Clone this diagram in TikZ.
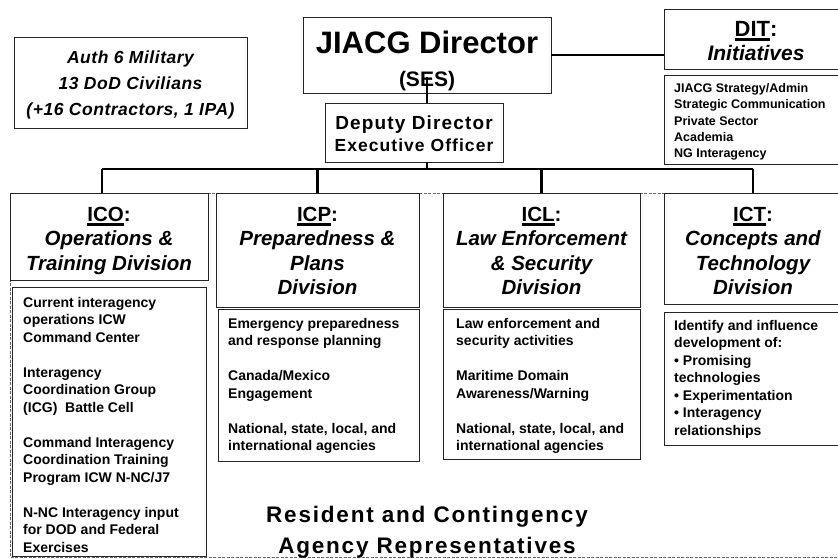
\documentclass[tikz,border=0pt]{standalone}
\usepackage{fontspec}
\setmainfont{Liberation Sans}
\newfontfamily\spA[LetterSpace=3]{Liberation Sans}
\newfontfamily\spB[LetterSpace=6]{Liberation Sans}
\newfontfamily\spC[LetterSpace=8]{Liberation Sans}
\newcommand\thul[1]{\setbox0\hbox{#1}\rlap{\rule[-4.5pt]{\wd0}{2.6pt}}\box0}
\tikzset{
  box/.style={draw=black!85, line width=0.8pt, inner sep=0pt, fill=white},
  conn/.style={line width=2.4pt, black},
  hdr/.style={anchor=north, align=center, inner sep=0pt, font=\bfseries\itshape\fontsize{20.5}{24.5}\selectfont},
  lst/.style={anchor=north west, align=left, inner sep=0pt, font=\bfseries\fontsize{14}{17.5}\selectfont},
}
\begin{document}
\begin{tikzpicture}[x=1pt,y=-1pt]
\useasboundingbox (0,0) rectangle (838,559);
\clip (0,0) rectangle (838,559);
\fill[white] (0,0) rectangle (838,559);
% outer dashed frame
\draw[dashed, black!60, line width=0.8pt, dash pattern=on 3pt off 1.5pt] (10,193) rectangle (860,557);
% top boxes
\node[box, minimum width=233pt, minimum height=91pt] (auth) at (130.5,82.5) {};
\node[box, minimum width=248pt, minimum height=76pt] (jd) at (427,55) {};
\node[box, minimum width=178pt, minimum height=59pt] (dep) at (414,132.5) {};
\node[box, minimum width=184pt, minimum height=60pt] (dit) at (756,39) {};
\node[box, minimum width=184pt, minimum height=89pt] (ditl) at (756,119.5) {};
% division boxes
\node[box, minimum width=198pt, minimum height=87pt] (ico) at (109,236.5) {};
\node[box, minimum width=194pt, minimum height=269pt] (icol) at (109,421.5) {};
\node[box, minimum width=203pt, minimum height=114pt] (icp) at (317.5,250) {};
\node[box, minimum width=201pt, minimum height=152pt] (icpl) at (318.5,385) {};
\node[box, minimum width=197pt, minimum height=114pt] (icl) at (541.5,250) {};
\node[box, minimum width=197pt, minimum height=150pt] (icll) at (541.5,384) {};
\node[box, minimum width=178pt, minimum height=111pt] (ict) at (753,248.5) {};
\node[box, minimum width=178pt, minimum height=133pt] (ictl) at (753,378.5) {};
% connectors
\coordinate (sesmid) at (427,77);
\coordinate (busL) at (102,169);
\coordinate (busR) at (753,169);
\draw[conn] (jd.east) -- (jd.east -| dit.west);
\draw[conn] (sesmid) -- (sesmid |- dep.north);
\draw[conn] (sesmid |- dep.south) -- (sesmid |- busL);
\draw[conn] (busL) -- (busR);
\draw[conn] (busL) -- (busL |- ico.north);
\draw[conn] (icp.north |- busL) -- (icp.north);
\draw[conn] (icl.north |- busL) -- (icl.north);
\draw[conn] (busR) -- (ict.north);
% texts
\node[anchor=north, align=center, inner sep=0pt, font=\spA\bfseries\itshape\fontsize{17.5}{26}\selectfont] (autht) at (130.5,47)
  {\rule{0pt}{16pt}Auth 6 Military\\13 DoD Civilians\\(+16 Contractors, 1 IPA)};
\node[anchor=north, align=center, inner sep=0pt, font=\bfseries\fontsize{31}{33}\selectfont] (jdt) at (427,28)
  {\rule{0pt}{25pt}JIACG Director\\{\fontsize{21}{33}\selectfont (SES)}};
\node[anchor=north, align=center, inner sep=0pt, font=\spB\bfseries\fontsize{19}{22}\selectfont] (dept) at (414,113)
  {\rule{0pt}{16pt}Deputy Director\\{\fontsize{17.5}{22}\selectfont Executive Officer}};
\node[anchor=north, align=center, inner sep=0pt, font=\bfseries\fontsize{21}{24}\selectfont] (ditt) at (756,17)
  {\rule{0pt}{19pt}{\fontsize{22}{24}\selectfont\thul{DIT}:}\\{\itshape Initiatives}};
\node[anchor=north west, align=left, inner sep=0pt, font=\bfseries\fontsize{12.5}{16.25}\selectfont] (ditlt) at (674,81.5)
  {\rule{0pt}{11pt}JIACG Strategy/Admin\\Strategic Communication\\Private Sector\\Academia\\NG Interagency};
\node[hdr] (icot) at (109,203) {\rule{0pt}{18pt}{\upshape\thul{ICO}:}\\Operations \&\\Training Division};
\node[hdr] (icpt) at (317.5,203) {\rule{0pt}{18pt}{\upshape\thul{ICP}:}\\Preparedness \&\\Plans\\Division};
\node[hdr] (iclt) at (541.5,203) {\rule{0pt}{18pt}{\upshape\thul{ICL}:}\\Law Enforcement\\\& Security\\Division};
\node[hdr] (ictt) at (753,203) {\rule{0pt}{18pt}{\upshape\thul{ICT}:}\\Concepts and\\Technology\\Division};
\node[lst] (icolt) at (23,295) {\rule{0pt}{12pt}Current interagency\\operations ICW\\Command Center\\[17.5pt]Interagency\\Coordination Group\\(ICG)\ \ Battle Cell\\[17.5pt]Command Interagency\\Coordination Training\\Program ICW N-NC/J7\\[17.5pt]N-NC Interagency input\\for DOD and Federal\\Exercises};
\node[lst] (icplt) at (228,316) {\rule{0pt}{12pt}Emergency preparedness\\and response planning\\[17.5pt]Canada/Mexico\\Engagement\\[17.5pt]National, state, local, and\\international agencies};
\node[lst] (icllt) at (456,316) {\rule{0pt}{12pt}Law enforcement and\\security activities\\[17.5pt]Maritime Domain\\Awareness/Warning\\[17.5pt]National, state, local, and\\international agencies};
\node[lst] (ictlt) at (674,318) {\rule{0pt}{12pt}Identify and influence\\development of:\\• Promising\\technologies\\• Experimentation\\• Interagency\\relationships};
\node[anchor=north, align=center, inner sep=0pt, font=\spC\bfseries\fontsize{22.5}{31}\selectfont] (bott) at (427,501.5)
  {\rule{0pt}{20.5pt}Resident and Contingency\\Agency Representatives};
\end{tikzpicture}
\end{document}
